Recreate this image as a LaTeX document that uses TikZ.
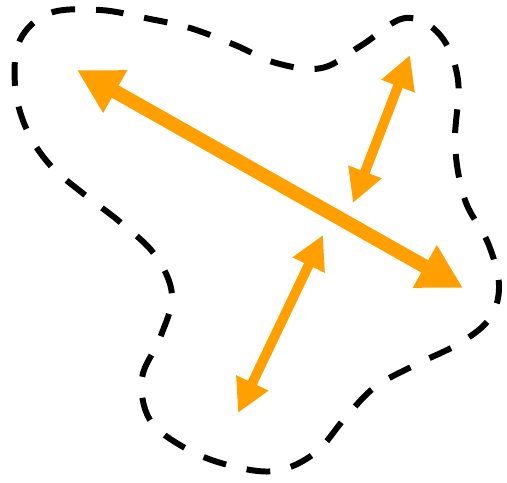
\documentclass[tikz,border=0pt]{standalone}
\usetikzlibrary{arrows.meta}
\definecolor{arroworange}{RGB}{255,159,0}
\begin{document}
\begin{tikzpicture}[
    x=0.02cm, y=-0.02cm,
    outline/.style={line width=3.4pt, dash pattern=on 13.5pt off 12pt, line cap=butt},
    bigarrow/.style={arroworange, line width=8pt, {Triangle[length=25pt,width=26pt]}-{Triangle[length=25pt,width=26pt]}},
    smallarrow/.style={arroworange, line width=5.6pt, {Triangle[length=19pt,width=19pt]}-{Triangle[length=19pt,width=19pt]}}
]
\useasboundingbox (0,0) rectangle (507,483);

\draw[outline] plot[smooth cycle, tension=0.6] coordinates {
    (50,13) (100,10) (145,18) (190,28) (235,45) (276,63) (322,68) (362,45)
    (405,18) (440,35) (458,80) (455,145) (465,200) (488,243) (499,285)
    (490,318) (460,343) (415,365) (375,387) (345,418) (315,453) (275,471)
    (228,465) (185,448) (150,420) (142,378) (160,338) (172,295) (155,255)
    (120,222) (85,195) (50,165) (26,128) (15,85) (20,40)};

\coordinate (a1) at (77,70);
\coordinate (a2) at (463,288);
\coordinate (b1) at (410,55);
\coordinate (b2) at (353,203);
\coordinate (c1) at (323,235);
\coordinate (c2) at (238,413);

\draw[bigarrow] (a1) -- (a2);
\draw[smallarrow] (b1) -- (b2);
\draw[smallarrow] (c1) -- (c2);

\end{tikzpicture}
\end{document}
